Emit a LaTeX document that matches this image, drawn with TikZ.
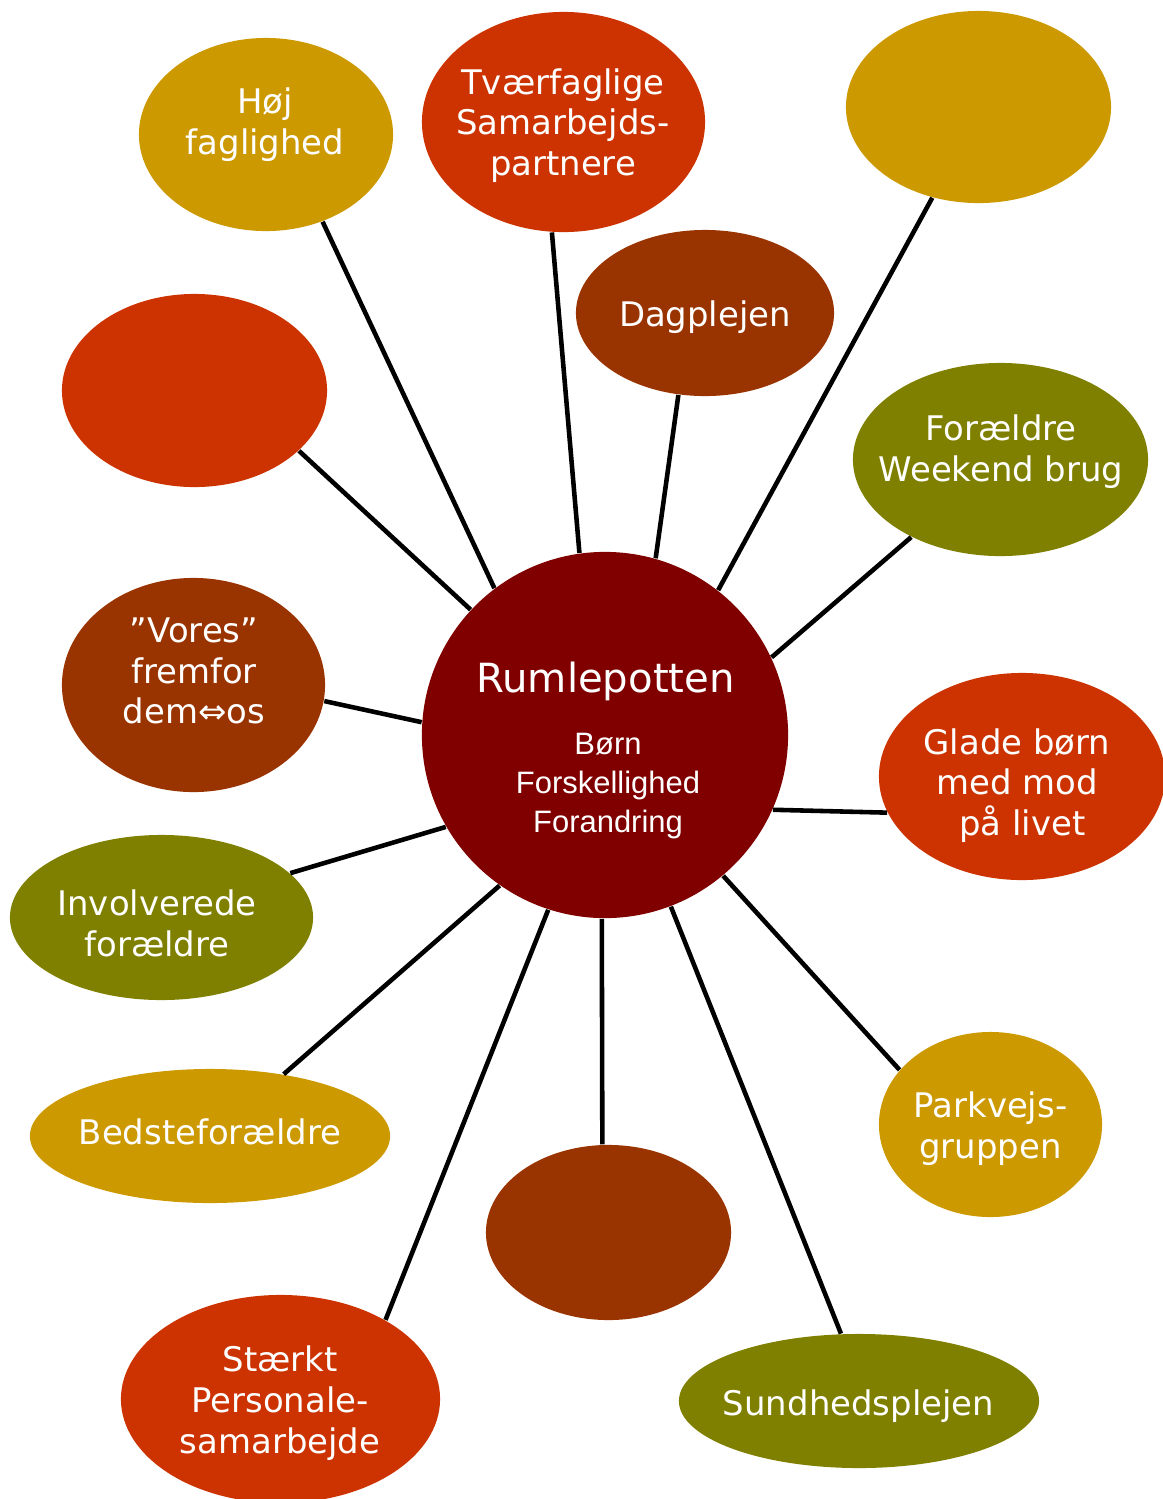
\documentclass[tikz,border=0pt]{standalone}
\usepackage{fontspec}
\setmainfont{DejaVu Sans}
\newfontfamily\arialfont{Liberation Sans}
\usetikzlibrary{shapes.geometric}
\definecolor{cRumle}{HTML}{800000}
\definecolor{cRed}{HTML}{CC3300}
\definecolor{cBrown}{HTML}{993300}
\definecolor{cOlive}{HTML}{808000}
\definecolor{cGold}{HTML}{CC9900}

\begin{document}
\begin{tikzpicture}[x=0.01cm, y=-0.01cm,
	bubble/.style={ellipse, inner sep=0pt},
	txt/.style={text=white, align=center, inner sep=0pt, font=\fontsize{9.64}{11.62}\selectfont},
	spoke/.style={line width=1.3pt, black}]
\useasboundingbox (0,0) rectangle (1163,1499);

% the bubbles
\node[bubble, fill=cGold, minimum width=2.54cm, minimum height=1.93cm] (hoj) at (266,134.5) {};
\node[bubble, fill=cRed, minimum width=2.83cm, minimum height=2.20cm] (tvaer) at (563.5,122) {};
\node[bubble, fill=cGold, minimum width=2.65cm, minimum height=1.92cm] (tomNO) at (978.5,107) {};
\node[bubble, fill=cBrown, minimum width=2.58cm, minimum height=1.66cm] (dag) at (705,313) {};
\node[bubble, fill=cRed, minimum width=2.65cm, minimum height=1.93cm] (tomV) at (194.5,390.5) {};
\node[bubble, fill=cOlive, minimum width=2.95cm, minimum height=1.93cm] (weekend) at (1000.5,459.5) {};
\node[bubble, fill=cBrown, minimum width=2.63cm, minimum height=2.14cm] (vores) at (193.5,685) {};
\node[bubble, fill=cRed, minimum width=2.86cm, minimum height=2.07cm] (glade) at (1022,776.5) {};
\node[bubble, fill=cOlive, minimum width=3.03cm, minimum height=1.65cm] (involv) at (161.5,917.5) {};
\node[bubble, fill=cGold, minimum width=3.60cm, minimum height=1.34cm] (bedste) at (210,1136) {};
\node[bubble, fill=cGold, minimum width=2.23cm, minimum height=1.85cm] (park) at (990.5,1124.5) {};
\node[bubble, fill=cBrown, minimum width=2.45cm, minimum height=1.75cm] (tomS) at (608.5,1232.5) {};
\node[bubble, fill=cRed, minimum width=3.19cm, minimum height=2.08cm] (staerkt) at (280.5,1399) {};
\node[bubble, fill=cOlive, minimum width=3.60cm, minimum height=1.34cm] (sundhed) at (859,1401) {};
\node[circle, fill=cRumle, inner sep=0pt, minimum size=3.66cm] (rumle) at (605,735) {};

% spokes
\foreach \a/\n/\b in {127.4/hoj/-57, 98.4/tvaer/-96, 52.1/tomNO/-117.4, 74.5/dag/-108.9,
		137.7/tomV/-30.7, 25.2/weekend/221.2, 176.5/vores/-7.5, -24.8/glade/195.2,
		210/involv/19, 235.9/bedste/40.6, -50.7/park/149.2, -91.3/tomS/94.6,
		252.6/staerkt/37.4, -69.6/sundhed/105}
	\draw[spoke] (rumle.\a) -- (\n.\b);

% texts
\node[txt] (hojtxt) at (265,124.6) {Høj\\faglighed};
\node[txt] (tvaertxt) at (563,125.6) {Tværfaglige\\Samarbejds-\\partnere};
\node[txt] (dagtxt) at (705,317) {Dagplejen};
\node[txt] (weekendtxt) at (1001,451.6) {Forældre\\Weekend brug};
\node[txt] (vorestxt) at (194,671) {”Vores”\\fremfor\\dem⇔os};
\node[txt] (gladetxt) at (1017,785.6) {Glade børn\\med mod\\\ på livet};
\node[txt] (involvtxt) at (157,923.5) {Involverede\\forældre};
\node[txt] (bedstetxt) at (210,1132) {Bedsteforældre};
\node[txt] (parktxt) at (990.5,1129) {Parkvejs-\\gruppen};
\node[txt] (staerkttxt) at (280,1403) {Stærkt\\Personale-\\samarbejde};
\node[txt] (sundhedtxt) at (858.5,1406) {Sundhedsplejen};
\node[txt, font=\fontsize{11.43}{13.7}\selectfont] (rumletxt) at (605.5,681) {Rumlepotten};
\node[txt, font=\arialfont\fontsize{8.8}{11.05}\selectfont] (kernetxt) at (608,786) {Børn\\Forskellighed\\Forandring};
\end{tikzpicture}
\end{document}
